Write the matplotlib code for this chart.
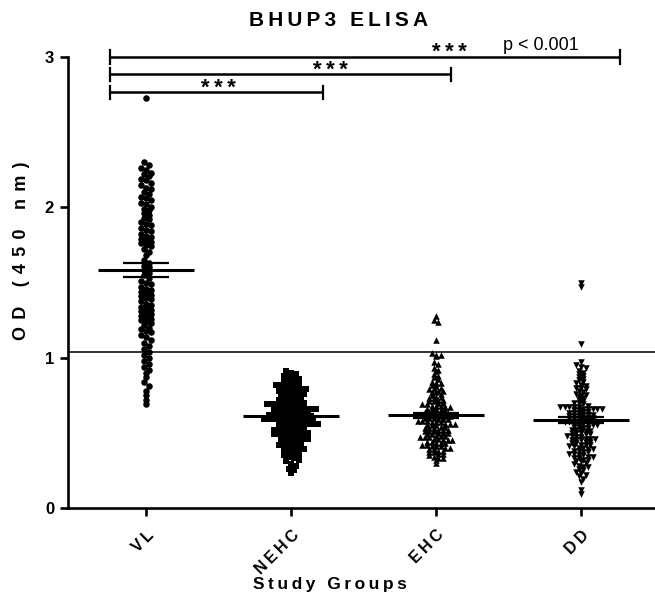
import numpy as np
import matplotlib
matplotlib.use('Agg')
import matplotlib.pyplot as plt

# ---------------- data ----------------
groups = ['VL', 'NEHC', 'EHC', 'DD']

vl = [2.73,
      2.30, 2.28, 2.26, 2.25, 2.23, 2.22, 2.21, 2.19, 2.18, 2.16, 2.15, 2.13, 2.12, 2.10,
      2.09, 2.07, 2.06, 2.05, 2.03, 2.02, 2.00, 1.99, 1.98, 1.96, 1.95, 1.93, 1.92, 1.90,
      1.89, 1.88, 1.86, 1.85, 1.84, 1.82, 1.81, 1.80, 1.79, 1.78, 1.77, 1.76, 1.75, 1.74,
      1.72, 1.70, 1.68,
      1.65, 1.63, 1.61, 1.60, 1.58, 1.56, 1.55, 1.53, 1.51, 1.50, 1.49, 1.47, 1.46, 1.45,
      1.44, 1.43, 1.42, 1.41, 1.40, 1.39, 1.38, 1.36, 1.35, 1.34, 1.33, 1.32, 1.31, 1.30,
      1.29, 1.28, 1.27, 1.26, 1.25, 1.24, 1.23, 1.22, 1.20, 1.19, 1.18, 1.17, 1.15, 1.14,
      1.12, 1.10, 1.08, 1.06, 1.04,
      1.02, 1.00, 0.98, 0.96, 0.94, 0.92, 0.90, 0.87, 0.84, 0.81, 0.78, 0.75, 0.72, 0.69]

nehc = [0.91, 0.90, 0.89, 0.88, 0.87, 0.86, 0.86, 0.85,
        0.84, 0.84, 0.83, 0.82, 0.82, 0.81, 0.80, 0.80,
        0.79, 0.79, 0.78, 0.78, 0.77, 0.77, 0.76, 0.76, 0.75,
        0.74, 0.74, 0.73, 0.73, 0.72, 0.72, 0.71, 0.71, 0.70, 0.70,
        0.69, 0.69, 0.69, 0.68, 0.68, 0.68, 0.67, 0.67, 0.66, 0.66, 0.66, 0.65, 0.65,
        0.64, 0.64, 0.64, 0.63, 0.63, 0.63, 0.62, 0.62, 0.62, 0.61, 0.61, 0.61,
        0.60, 0.60, 0.60, 0.60,
        0.59, 0.59, 0.59, 0.58, 0.58, 0.58, 0.57, 0.57, 0.57, 0.56, 0.56, 0.56, 0.55, 0.55,
        0.54, 0.54, 0.53, 0.53, 0.52, 0.52, 0.52, 0.51, 0.51, 0.50, 0.50, 0.50,
        0.49, 0.49, 0.48, 0.48, 0.47, 0.47, 0.46, 0.46, 0.45, 0.45,
        0.44, 0.44, 0.43, 0.42, 0.42, 0.41, 0.40, 0.40,
        0.39, 0.38, 0.37, 0.37, 0.36, 0.35,
        0.34, 0.33, 0.32, 0.31,
        0.29, 0.28, 0.26, 0.25, 0.23]

ehc = [1.28, 1.25, 1.24, 1.12, 1.03, 1.02, 1.02, 1.01, 0.97, 0.96, 0.93, 0.92, 0.91,
       0.89, 0.88, 0.87, 0.86,
       0.84, 0.83, 0.83, 0.82, 0.81, 0.80,
       0.79, 0.79, 0.78, 0.78, 0.77, 0.77, 0.76, 0.75,
       0.74, 0.74, 0.73, 0.73, 0.72, 0.72, 0.71, 0.71, 0.70, 0.70,
       0.69, 0.69, 0.68, 0.68, 0.68, 0.67, 0.67, 0.66, 0.66, 0.66, 0.65, 0.65,
       0.64, 0.64, 0.64, 0.63, 0.63, 0.63, 0.62, 0.62, 0.62, 0.62, 0.61, 0.61, 0.61,
       0.60, 0.60, 0.60,
       0.59, 0.59, 0.59, 0.58, 0.58, 0.58, 0.57, 0.57, 0.57, 0.56, 0.56, 0.56, 0.55,
       0.55, 0.55,
       0.54, 0.54, 0.53, 0.53, 0.53, 0.52, 0.52, 0.52, 0.51, 0.51, 0.51, 0.50, 0.50, 0.50,
       0.49, 0.49, 0.48, 0.48, 0.48, 0.47, 0.47, 0.47, 0.46, 0.46, 0.45, 0.45, 0.45,
       0.44, 0.44, 0.43, 0.43, 0.43, 0.42, 0.42, 0.41, 0.41, 0.41, 0.40, 0.40,
       0.39, 0.39, 0.38, 0.38, 0.37, 0.37, 0.36, 0.36, 0.35,
       0.34, 0.33, 0.33, 0.32, 0.30]

dd = [1.50, 1.47, 1.09,
      0.97, 0.95, 0.94, 0.93, 0.91, 0.90, 0.89, 0.88, 0.87, 0.86, 0.85, 0.84, 0.83, 0.82,
      0.81, 0.80, 0.80, 0.79, 0.78, 0.77, 0.76, 0.75, 0.75, 0.74, 0.73, 0.72, 0.71, 0.70,
      0.70,
      0.69, 0.68, 0.67, 0.67, 0.67, 0.67, 0.67, 0.66, 0.66, 0.66, 0.66, 0.66, 0.65, 0.65,
      0.64, 0.64, 0.63, 0.63, 0.63, 0.62, 0.62, 0.62, 0.61, 0.61, 0.61, 0.60, 0.60, 0.60,
      0.59, 0.59, 0.59, 0.58, 0.58, 0.58, 0.57, 0.57, 0.56, 0.56, 0.56, 0.55, 0.55, 0.55,
      0.54, 0.54, 0.53, 0.53, 0.52, 0.52, 0.52, 0.51, 0.51, 0.50, 0.50, 0.50,
      0.49, 0.49, 0.48, 0.48, 0.47, 0.47, 0.46, 0.46, 0.46, 0.45, 0.45, 0.45,
      0.44, 0.44, 0.43, 0.43, 0.42, 0.42, 0.42, 0.41, 0.41, 0.40, 0.40,
      0.39, 0.39, 0.38, 0.38, 0.37, 0.37, 0.36, 0.36, 0.35, 0.35,
      0.34, 0.34, 0.33, 0.33, 0.32, 0.32, 0.31, 0.31, 0.30,
      0.29, 0.28, 0.27, 0.27, 0.26, 0.25,
      0.24, 0.23, 0.22, 0.21,
      0.19, 0.17,
      0.12, 0.09]

means = [1.585, 0.612, 0.617, 0.588]
sems = [0.046, 0.016, 0.018, 0.020]
cutoff = 1.04
y_ticks = [0, 1, 2, 3]
sig_labels = ['***', '***', '***']
p_text = 'p < 0.001'

# ---------------- drawing ----------------
W, H, DPI = 655, 601, 100
fig = plt.figure(figsize=(W / DPI, H / DPI), dpi=DPI)
FAM = ['Liberation Sans', 'DejaVu Sans']
plt.rcParams['font.family'] = FAM


def spaced(s, sep='\u2009'):
    return sep.join(list(s))


ax = fig.add_axes([68 / W, 1 - 508 / H, (W - 68) / W, (508 - 42) / H])
ax.set_xlim(0.46, 4.51)
ax.set_ylim(0, 3.1)

markers = ['o', 's', '^', 'v']
msizes = [22, 20, 22, 22]
row_hs = [0.03, 0.03, 0.02, 0.02]
col_ws = [0.036, 0.034, 0.032, 0.032]
series = [vl, nehc, ehc, dd]


def swarm(vals, xc, row_h, col_w):
    v = np.sort(np.asarray(vals, dtype=float))[::-1]
    rows, cur = [], [v[0]]
    for val in v[1:]:
        if cur[0] - val < row_h:
            cur.append(val)
        else:
            rows.append(cur)
            cur = [val]
    rows.append(cur)
    xs, ys = [], []
    for r in rows:
        n = len(r)
        for i, val in enumerate(r):
            xs.append(xc + (i - (n - 1) / 2) * col_w)
            ys.append(val)
    return xs, ys


for i, (vals, m, s) in enumerate(zip(series, markers, msizes)):
    xc = i + 1
    xs, ys = swarm(vals, xc, row_hs[i], col_ws[i])
    ax.scatter(xs, ys, marker=m, s=s, color='black', linewidths=0, zorder=3)
    # mean line
    ax.plot([xc - 0.33, xc + 0.33], [means[i], means[i]], color='black', lw=2.2,
            solid_capstyle='butt', zorder=4)
    # SEM
    for yy in (means[i] - sems[i], means[i] + sems[i]):
        ax.plot([xc - 0.16, xc + 0.16], [yy, yy], color='black', lw=1.6,
                solid_capstyle='butt', zorder=4)
    ax.plot([xc, xc], [means[i] - sems[i], means[i] + sems[i]], color='black', lw=1.6,
            zorder=4)

# cutoff line
ax.axhline(cutoff, color='#222222', lw=1.3, zorder=2)

# significance bars
x0 = 0.75
bar_y = [3.0, 2.885, 2.765]
bar_x1 = [4.27, 3.10, 2.22]
star_x = [3.09, 2.27, 1.50]
tick_h = 0.045
for y, x1, sx, lab in zip(bar_y, bar_x1, star_x, sig_labels):
    ax.plot([x0, x1], [y, y], color='black', lw=1.8, solid_capstyle='butt',
            clip_on=False, zorder=5)
    for xx in (x0, x1):
        ax.plot([xx, xx], [y - tick_h, y + tick_h], color='black', lw=1.6,
                clip_on=False, zorder=5)
    ax.text(sx, y - 0.008, spaced(lab), ha='center', va='baseline', fontsize=16,
            fontweight='bold', color='black', clip_on=False)
ax.text(3.72, 3.0 + 0.018, p_text, ha='center', va='bottom', fontsize=13,
        color='black', clip_on=False)

# axes styling
for sp in ('top', 'right'):
    ax.spines[sp].set_visible(False)
ax.spines['left'].set_bounds(0, 3)
ax.spines['left'].set_linewidth(1.9)
ax.spines['bottom'].set_linewidth(1.9)
ax.set_yticks(y_ticks)
ax.set_yticklabels([str(t) for t in y_ticks], fontsize=12, fontweight='bold')
ax.set_xticks([1, 2, 3, 4])
ax.set_xticklabels([spaced(g) for g in groups],
                   rotation=45, ha='right', va='top', rotation_mode='anchor',
                   fontsize=11.5, fontweight='bold')
ax.tick_params(axis='both', direction='out', length=6, width=1.9, pad=4)
ax.tick_params(axis='x', pad=8)

fig.text(339 / W, 1 - 21 / H, spaced('BHUP3 ELISA'), ha='center', va='center',
         fontsize=15, fontweight='bold')
fig.text(22 / W, 1 - 251 / H, spaced('OD (450 nm)', '\u2009\u2009'), ha='center',
         va='center', rotation=90, fontsize=13, fontweight='bold')
fig.text(330 / W, 1 - 584 / H, spaced('Study Groups'), ha='center', va='center',
         fontsize=12.5, fontweight='bold')

fig.savefig('out.png', dpi=DPI, facecolor='white')
